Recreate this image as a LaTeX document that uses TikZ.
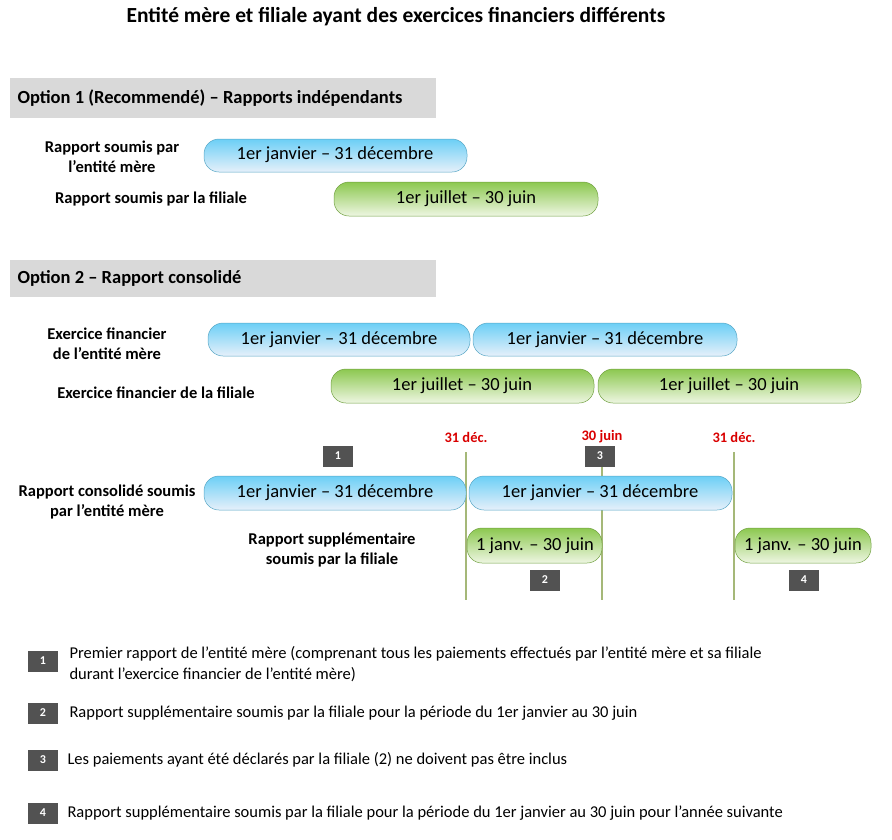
\documentclass[tikz,border=0pt]{standalone}
\usepackage{fontspec}
\setmainfont{Carlito}
\definecolor{vlc}{HTML}{A5B878}
\definecolor{btop}{HTML}{6CCFF6}
\definecolor{bbot}{HTML}{E6F0FA}
\definecolor{gtop}{HTML}{8CC850}
\definecolor{gbot}{HTML}{EEF6E2}
\begin{document}
\begin{tikzpicture}[x=1pt,y=-1pt,
 bar/.style={rounded corners=15pt,draw=#1,line width=0.5pt},
 bluebar/.style={bar=btop!80!black,top color=btop,bottom color=bbot},
 greenbar/.style={bar=gtop!80!black,top color=gtop,bottom color=gbot},
 bt/.style={font=\fontsize{18.5}{20}\selectfont},
 lab/.style={font=\bfseries\fontsize{16.5}{20}\selectfont,align=center},
 num/.style={fill=black!68,text=white,font=\bfseries\fontsize{12}{13}\selectfont,minimum width=30pt,minimum height=21pt,inner sep=0pt},
 red/.style={text=red!85!black,font=\bfseries\fontsize{14.5}{16}\selectfont},
 vl/.style={draw=vlc,line width=2pt},
 leg/.style={anchor=west,align=left,font=\fontsize{16.5}{21}\selectfont}]
\useasboundingbox (0,0) rectangle (892,839);
\node[font=\bfseries\fontsize{21.5}{24}\selectfont] (title) at (396,17) {Entité mère et filiale ayant des exercices financiers différents};
\fill[black!15] (10,78) rectangle (436,118);
\node[anchor=west,font=\bfseries\fontsize{18.5}{20}\selectfont] (o1) at (14,98) {Option 1 (Recommendé) – Rapports indépendants};
\fill[black!15] (10,260) rectangle (436,297);
\node[anchor=west,font=\bfseries\fontsize{18.5}{20}\selectfont] (o2) at (14,278) {Option 2 – Rapport consolidé};
% option1
\node[lab] (l1) at (112,157) {Rapport soumis par\\l'entité mère};
\node[lab] (l2) at (151,199) {Rapport soumis par la filiale};
\shade[bluebar] (204,139) rectangle (467,172); \node[bt] (b1) at (335,155) {1er janvier – 31 décembre};
\shade[greenbar] (334,182) rectangle (598,216); \node[bt] (g1) at (466,199) {1er juillet – 30 juin};
% option2
\node[lab] (l3) at (107,344) {Exercice financier\\de l'entité mère};
\node[lab] (l4) at (156,393) {Exercice financier de la filiale};
\shade[bluebar] (208,323) rectangle (470,356); \node[bt] (b2) at (339,340) {1er janvier – 31 décembre};
\shade[bluebar] (473,323) rectangle (737,356); \node[bt] (b3) at (605,340) {1er janvier – 31 décembre};
\shade[greenbar] (331,369) rectangle (594,403); \node[bt] (g2) at (462,386) {1er juillet – 30 juin};
\shade[greenbar] (598,369) rectangle (861,403); \node[bt] (g3) at (729,386) {1er juillet – 30 juin};
% timeline
\node[red] (d1) at (466,437) {31 déc.};
\node[red] (d2) at (602,437) {30 juin};
\node[red] (d3) at (734,437) {31 déc.};
\coordinate (v1a) at (466,452); \coordinate (v1b) at (466,600);
\coordinate (v2a) at (602,452); \coordinate (v2b) at (602,600);
\coordinate (v3a) at (734,452); \coordinate (v3b) at (734,600);
\node[lab] (l5) at (107,502) {Rapport consolidé soumis\\par l'entité mère};
\node[lab] (l6) at (332,550) {Rapport supplémentaire\\soumis par la filiale};
\draw[vl] (v1a) -- (v1b); \draw[vl] (v2a) -- (v2b); \draw[vl] (v3a) -- (v3b);
\shade[bluebar] (204,476) rectangle (466,510); \node[bt] (b4) at (335,493) {1er janvier – 31 décembre};
\shade[bluebar] (469,476) rectangle (732,510); \node[bt] (b5) at (600,493) {1er janvier – 31 décembre};
\shade[greenbar] (467,528) rectangle (602,563); \node[bt] (g4) at (535,546) {1 janv. – 30 juin};
\shade[greenbar] (735,528) rectangle (871,563); \node[bt] (g5) at (803,546) {1 janv. – 30 juin};
\node[num] (n1) at (338,456) {1};
\node[num] (n3) at (600,456) {3};
\node[num] (n2) at (545,580) {2};
\node[num] (n4) at (804,580) {4};
% legend
\node[num] (k1) at (43,661) {1};
\node[leg] (t1) at (66,664) {Premier rapport de l'entité mère (comprenant tous les paiements effectués par l'entité mère et sa filiale\\durant l’exercice financier de l'entité mère)};
\node[num] (k2) at (43,713) {2};
\node[leg] (t2) at (66,713) {Rapport supplémentaire soumis par la filiale pour la période du 1er janvier au 30 juin};
\node[num] (k3) at (43,760) {3};
\node[leg] (t3) at (64,760) {Les paiements ayant été déclarés par la filiale (2) ne doivent pas être inclus};
\node[num] (k4) at (43,813) {4};
\node[leg] (t4) at (64,813) {Rapport supplémentaire soumis par la filiale pour la période du 1er janvier au 30 juin pour l’année suivante};
\end{tikzpicture}
\end{document}
